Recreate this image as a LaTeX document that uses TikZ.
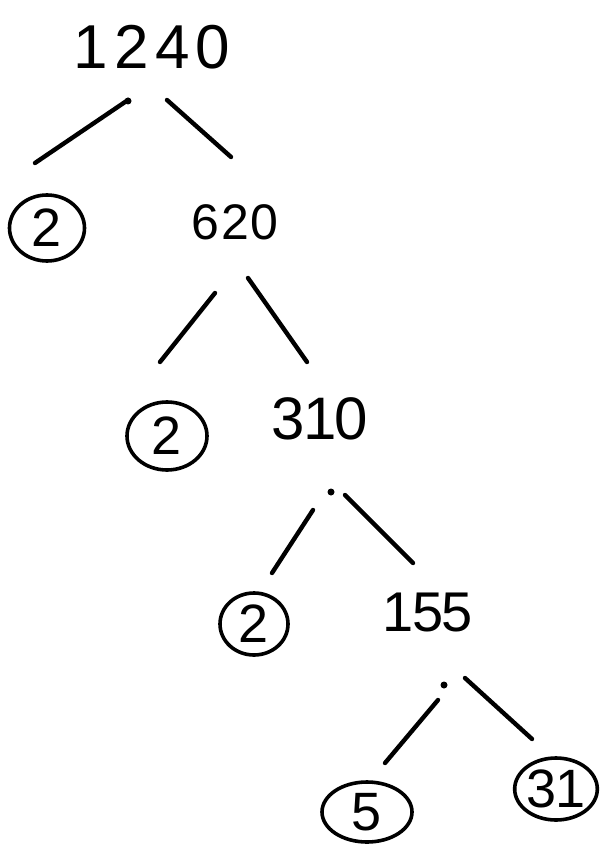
\documentclass[tikz,border=0pt]{standalone}
\usepackage{fontspec}
\setmainfont{Liberation Sans}
\newfontfamily\handwide[LetterSpace=10]{Liberation Sans}
\newfontfamily\handmid[LetterSpace=4]{Liberation Sans}
\newfontfamily\handtight[LetterSpace=-3]{Liberation Sans}
\usetikzlibrary{shapes.geometric}
\tikzset{
  num/.style={inner sep=0pt},
  prime/.style={ellipse, draw, line width=3.6pt, inner sep=0pt,
    font=\handtight\fontsize{54}{54}\selectfont},
  branch/.style={line width=4.4pt, line cap=round},
  blip/.style={circle, fill, inner sep=0pt, minimum size=7pt}
}
\begin{document}
\begin{tikzpicture}[x=1pt, y=-1pt]
\useasboundingbox (0,0) rectangle (604,866);

% composite numbers
\node[num, font=\handwide\fontsize{62}{62}\selectfont]  (n1240) at (152,47)  {1240};
\node[num, font=\handmid\fontsize{50}{50}\selectfont]   (n620)  at (235,222) {620};
\node[num, font=\handtight\fontsize{60}{60}\selectfont] (n310)  at (320,419) {310};
\node[num, font=\handtight\fontsize{56}{56}\selectfont] (n155)  at (428,613) {155};

% prime factors, circled
\node[prime, minimum width=75pt, minimum height=66pt] (p2a) at (47,228)  {2};
\node[prime, minimum width=80pt, minimum height=68pt] (p2b) at (167,436) {2};
\node[prime, minimum width=68pt, minimum height=62pt] (p2c) at (254,624) {2};
\node[prime, minimum width=90pt, minimum height=60pt] (p5)  at (367,812) {5};
\node[prime, minimum width=82pt, minimum height=62pt] (p31) at (556,789) {31};

% branch end points
\coordinate (a1) at (128,100); \coordinate (a2) at (35,163);
\coordinate (b1) at (167,100); \coordinate (b2) at (231,157);
\coordinate (c1) at (215,293); \coordinate (c2) at (160,362);
\coordinate (d1) at (248,278); \coordinate (d2) at (307,362);
\coordinate (e1) at (313,510); \coordinate (e2) at (272,573);
\coordinate (f1) at (345,495); \coordinate (f2) at (413,563);
\coordinate (g1) at (438,700); \coordinate (g2) at (385,763);
\coordinate (h1) at (465,678); \coordinate (h2) at (532,739);

% branches
\draw[branch] (a1) -- (a2);
\draw[branch] (b1) -- (b2);
\draw[branch] (c1) -- (c2);
\draw[branch] (d1) -- (d2);
\draw[branch] (e1) -- (e2);
\draw[branch] (f1) -- (f2);
\draw[branch] (g1) -- (g2);
\draw[branch] (h1) -- (h2);

% pen marks at branch tops
\node[blip] (k1) at (128,101) {};
\node[blip] (k2) at (331,492) {};
\node[blip] (k3) at (444,685) {};
\end{tikzpicture}
\end{document}
